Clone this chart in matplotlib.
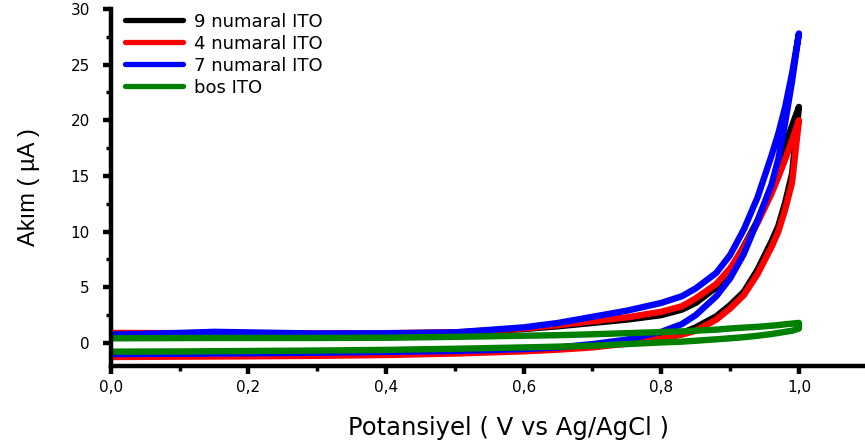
import matplotlib
matplotlib.use("Agg")
import matplotlib.pyplot as plt
from matplotlib.ticker import MultipleLocator
from matplotlib import font_manager

# Potential grids (V vs Ag/AgCl): anodic sweep out, cathodic sweep back
v_fwd = [0.0, 0.1, 0.15, 0.2, 0.3, 0.4, 0.5, 0.6, 0.65, 0.7, 0.75, 0.8, 0.83, 0.85,
         0.88, 0.9, 0.92, 0.94, 0.96, 0.97, 0.98, 0.99, 1.0]
v_rev = [1.0, 0.99, 0.98, 0.97, 0.96, 0.94, 0.92, 0.9, 0.88, 0.85, 0.83, 0.8, 0.75,
         0.7, 0.65, 0.6, 0.5, 0.4, 0.3, 0.2, 0.1, 0.0]

# Current (µA)
ito9_fwd = [0.7, 0.75, 0.78, 0.8, 0.8, 0.85, 0.92, 1.25, 1.5, 1.8, 2.1, 2.5, 3.0, 3.6,
            5.0, 6.5, 8.7, 11.0, 14.0, 15.8, 17.8, 19.5, 21.2]
ito9_rev = [21.2, 15.2, 12.6, 10.5, 9.1, 6.6, 4.6, 3.4, 2.4, 1.4, 0.9, 0.45, 0.0,
            -0.3, -0.5, -0.65, -0.85, -0.95, -1.0, -1.05, -1.1, -1.15]

ito4_fwd = [0.9, 0.88, 0.86, 0.85, 0.85, 0.88, 0.95, 1.3, 1.6, 1.95, 2.3, 2.8, 3.3, 4.0,
            5.3, 6.7, 8.6, 10.8, 13.4, 14.9, 16.5, 18.2, 20.0]
ito4_rev = [20.0, 14.4, 12.0, 10.0, 8.6, 6.2, 4.3, 3.1, 2.1, 1.1, 0.75, 0.4, -0.05,
            -0.4, -0.6, -0.75, -0.95, -1.08, -1.15, -1.2, -1.23, -1.26]

ito7_fwd = [0.75, 0.9, 1.0, 0.95, 0.85, 0.87, 0.95, 1.4, 1.8, 2.35, 2.9, 3.6, 4.2, 4.9,
            6.3, 7.9, 10.2, 13.1, 16.8, 18.8, 21.2, 24.2, 27.8]
ito7_rev = [27.8, 23.5, 19.8, 16.5, 14.2, 11.0, 8.0, 5.8, 4.2, 2.5, 1.7, 1.0, 0.3,
            -0.1, -0.4, -0.55, -0.72, -0.8, -0.88, -0.93, -0.97, -1.0]

bos_fwd = [0.42, 0.44, 0.45, 0.45, 0.45, 0.47, 0.55, 0.65, 0.7, 0.78, 0.88, 0.98, 1.04, 1.1,
           1.2, 1.3, 1.38, 1.45, 1.55, 1.6, 1.68, 1.74, 1.8]
bos_rev = [1.3, 1.1, 1.0, 0.9, 0.8, 0.65, 0.52, 0.42, 0.33, 0.2, 0.12, 0.05, -0.1,
           -0.25, -0.33, -0.4, -0.52, -0.62, -0.68, -0.72, -0.76, -0.78]

series = [
    ("9 numaral ITO", ito9_fwd, ito9_rev, "black"),
    ("4 numaral ITO", ito4_fwd, ito4_rev, "#ff0000"),
    ("7 numaral ITO", ito7_fwd, ito7_rev, "#0000ff"),
    ("bos ITO", bos_fwd, bos_rev, "#008000"),
]

x_ticks = [0.0, 0.2, 0.4, 0.6, 0.8, 1.0]
x_tick_labels = ["0,0", "0,2", "0,4", "0,6", "0,8", "1,0"]
y_ticks = [0, 5, 10, 15, 20, 25, 30]

installed = {f.name for f in font_manager.fontManager.ttflist}
label_font = "Liberation Sans" if "Liberation Sans" in installed else "DejaVu Sans"
plt.rcParams["font.family"] = ["DejaVu Sans"]

fig = plt.figure(figsize=(8.65, 4.48), dpi=100)
ax = fig.add_axes([0.128, 0.183, 0.872, 0.797])

for label, fwd, rev, color in series:
    xs = v_fwd + v_rev
    ys = fwd + rev
    ax.plot(xs, ys, color=color, lw=4.6, solid_capstyle="round",
            solid_joinstyle="round", label=label)

ax.set_xlim(0.0, 1.096)
ax.set_ylim(-2.07, 30)

ax.set_xticks(x_ticks)
ax.set_xticklabels(x_tick_labels)
ax.set_yticks(y_ticks)
ax.xaxis.set_minor_locator(MultipleLocator(0.1))
ax.yaxis.set_minor_locator(MultipleLocator(2.5))

for side in ("top", "right"):
    ax.spines[side].set_visible(False)
for side in ("left", "bottom"):
    ax.spines[side].set_linewidth(3.2)

ax.tick_params(axis="both", which="major", direction="out", length=6, width=3.2,
               labelsize=11)
ax.tick_params(axis="x", which="major", pad=4)
ax.tick_params(axis="y", which="major", pad=9)
ax.tick_params(axis="both", which="minor", direction="out", length=3.5, width=2.5)

ax.set_xlabel("Potansiyel ( V vs Ag/AgCl )", fontsize=17.5, labelpad=15)
ax.xaxis.label.set_x(0.527)
ax.set_ylabel("Akım ( µA )", fontsize=17, family=[label_font, "DejaVu Sans"],
              labelpad=22)

leg = ax.legend(loc="upper left", frameon=False, fontsize=13, handlelength=3.2,
                handletextpad=0.6, labelspacing=0.22, borderaxespad=0.0,
                bbox_to_anchor=(0.01, 1.01))
for line in leg.get_lines():
    line.set_linewidth(3.8)

fig.savefig("out.png", dpi=100)
